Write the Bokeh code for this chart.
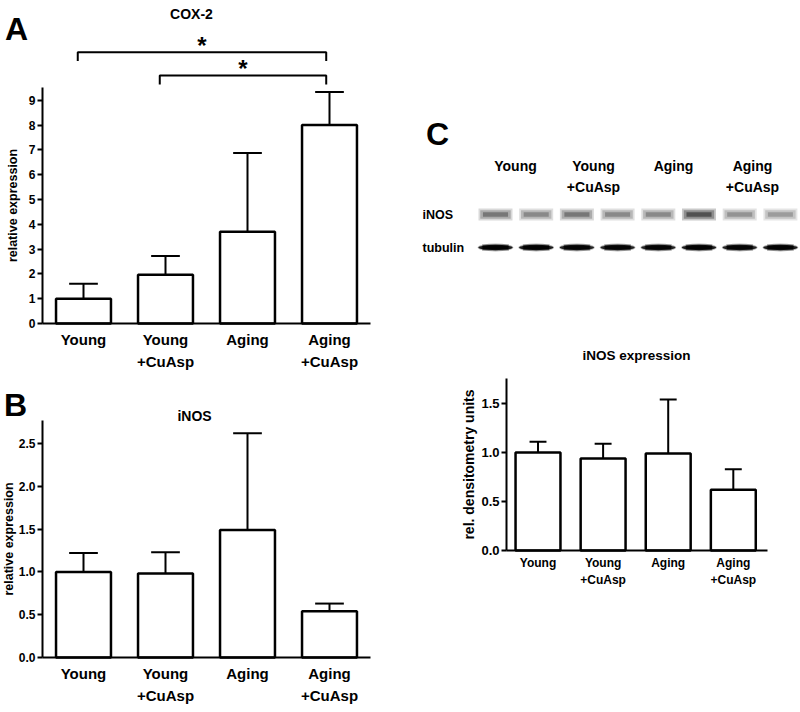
from bokeh.plotting import figure
from bokeh.models import Range1d, FixedTicker, Label, PrintfTickFormatter
from bokeh.layouts import row, column
from bokeh.embed import file_html
from bokeh.resources import INLINE

FONT = "Liberation Sans"

# ---------------- data ----------------
groups = ["Young", "Young\n+CuAsp", "Aging", "Aging\n+CuAsp"]
group_top = ["Young", "Young", "Aging", "Aging"]
group_bottom = ["", "+CuAsp", "", "+CuAsp"]
x_pos = [1, 2, 3, 4]

cox2_mean = [1.0, 1.97, 3.7, 8.0]
cox2_sem = [0.6, 0.75, 3.17, 1.33]
cox2_ticks = [0, 1, 2, 3, 4, 5, 6, 7, 8, 9]
cox2_axis_top = 9.5
cox2_signif = [(1, 4, 10.94, "*"), (2, 4, 10.0, "*")]

inos_mean = [1.0, 0.98, 1.49, 0.54]
inos_sem = [0.22, 0.25, 1.13, 0.09]
inos_ticks = [0.0, 0.5, 1.0, 1.5, 2.0, 2.5]
inos_axis_top = 2.77

dens_mean = [1.0, 0.94, 0.99, 0.62]
dens_sem = [0.11, 0.15, 0.55, 0.21]
dens_ticks = [0.0, 0.5, 1.0, 1.5]
dens_axis_top = 1.76

lanes = [1, 2, 3, 4, 5, 6, 7, 8]
inos_band = [0.6, 0.5, 0.6, 0.5, 0.5, 0.85, 0.45, 0.4]
tubulin_band = [0.95, 0.95, 0.9, 0.9, 0.9, 0.95, 0.9, 0.95]
blot_rows = ["iNOS", "tubulin"]


def style_common(p):
    p.xgrid.visible = False
    p.ygrid.visible = False
    p.outline_line_color = None
    p.background_fill_color = "white"
    p.border_fill_color = "white"


def bar_panel(w, h, xr, yr, x_axis_at, y_axis_at, means, sems, yticks, ybound, ylabel,
              fmt, tick_fs, xlab_fs, ylab_fs, xlab_standoff, xlab_lh, ylab_standoff,
              bar_w, cap_w):
    p = figure(width=w, height=h, x_range=Range1d(*xr), y_range=Range1d(*yr),
               output_backend="svg", toolbar_location=None, min_border=0)
    style_common(p)
    for ax in (p.xaxis[0], p.yaxis[0]):
        ax.axis_line_width = 2
        ax.axis_line_color = "black"
        ax.minor_tick_line_color = None
        ax.major_label_text_font = FONT
        ax.major_label_text_font_style = "bold"
        ax.major_label_text_color = "black"
        ax.axis_label_text_font = FONT
        ax.axis_label_text_font_style = "bold"
        ax.axis_label_text_color = "black"
    xa = p.xaxis[0]
    xa.fixed_location = x_axis_at
    xa.ticker = FixedTicker(ticks=x_pos)
    xa.major_label_overrides = {x: g for x, g in zip(x_pos, groups)}
    xa.major_tick_line_color = None
    xa.major_tick_out = 0
    xa.major_tick_in = 0
    xa.major_label_standoff = xlab_standoff
    xa.major_label_text_font_size = xlab_fs
    xa.major_label_text_line_height = xlab_lh
    ya = p.yaxis[0]
    ya.fixed_location = y_axis_at
    ya.ticker = FixedTicker(ticks=yticks)
    ya.formatter = PrintfTickFormatter(format=fmt)
    ya.bounds = (0, ybound)
    ya.major_tick_line_width = 2
    ya.major_tick_out = 5
    ya.major_tick_in = 0
    ya.major_label_standoff = 2
    ya.major_label_text_font_size = tick_fs
    ya.axis_label = ylabel
    ya.axis_label_text_font_size = ylab_fs
    ya.axis_label_standoff = ylab_standoff
    # bars
    p.vbar(x=x_pos, top=means, bottom=0, width=bar_w, fill_color="white",
           line_color="black", line_width=2.5)
    tops = [m + s for m, s in zip(means, sems)]
    p.segment(x0=x_pos, y0=means, x1=x_pos, y1=tops, line_color="black", line_width=2)
    p.segment(x0=[x - cap_w / 2 for x in x_pos], y0=tops,
              x1=[x + cap_w / 2 for x in x_pos], y1=tops,
              line_color="black", line_width=2)
    return p


def lab(p, x, y, text, size, align="center", baseline="middle"):
    p.add_layout(Label(x=x, y=y, text=text, text_font=FONT, text_font_style="bold",
                       text_font_size=size, text_align=align, text_baseline=baseline,
                       text_color="black"))


# ---------------- Panel A (COX-2) ----------------
ax_ = lambda px: 0.5 + (px - 42) / 82.0
ay_ = lambda py: (323 - py) / 24.8
pA = bar_panel(388, 375, (ax_(0), ax_(388)), (ay_(375), ay_(0)), 0, 0.5,
               cox2_mean, cox2_sem, cox2_ticks, cox2_axis_top, "relative expression",
               "%d", "12px", "15px", "12.5px", 7, 1.3, 6, 0.67, 0.35)
pA.xaxis[0].bounds = (0.5, ax_(370))
for (g0, g1, yb, star) in cox2_signif:
    x0 = g0 - 0.07
    x1 = g1 - 0.04
    drop = 0.36
    pA.line(x=[x0, x0, x1, x1], y=[yb - drop, yb, yb, yb - drop],
            line_color="black", line_width=2)
    lab(pA, (x0 + x1) / 2, yb + 0.28, star, "24px")
lab(pA, ax_(191), ay_(13), "COX-2", "14px")
lab(pA, ax_(16), ay_(28), "A", "32px")

# ---------------- Panel B (iNOS) ----------------
by_ = lambda py: (657 - py) / 85.6
pB = bar_panel(388, 337, (ax_(0), ax_(388)), (by_(712), by_(375)), 0, 0.5,
               inos_mean, inos_sem, inos_ticks, inos_axis_top, "relative expression",
               "%.1f", "12px", "15px", "12.5px", 7, 1.3, 0, 0.67, 0.35)
pB.xaxis[0].bounds = (0.5, ax_(370))
lab(pB, ax_(194), by_(415), "iNOS", "14px")
lab(pB, ax_(15), by_(404), "B", "32px")

# ---------------- Panel C blot ----------------
lx = lambda px: 1 + (px - 495) / 40.7
ry = lambda py: 1 + (py - 214) / 33.0
pC1 = figure(width=412, height=300, x_range=Range1d(lx(388), lx(800)),
             y_range=Range1d(ry(300), ry(0)), output_backend="svg",
             toolbar_location=None, min_border=0)
style_common(pC1)
pC1.xaxis.visible = False
pC1.yaxis.visible = False
for scale_w, scale_h, a in [(0.95, 0.36, 0.25), (0.85, 0.26, 0.35), (0.7, 0.14, 0.5)]:
    pC1.rect(x=lanes, y=[1] * 8, width=scale_w * 0.88, height=scale_h,
             fill_color="black", fill_alpha=[v * a for v in inos_band], line_color=None)
for scale_w, scale_h, a in [(0.88, 0.24, 0.3), (0.84, 0.16, 0.9)]:
    pC1.ellipse(x=lanes, y=[2] * 8, width=scale_w, height=scale_h,
                fill_color="black", fill_alpha=[v * a for v in tubulin_band], line_color=None)
    pC1.rect(x=lanes, y=[2] * 8, width=scale_w * 0.75, height=scale_h * 0.8,
             fill_color="black", fill_alpha=[v * a for v in tubulin_band], line_color=None)
for gx, t, b in zip([515, 593, 673, 752], group_top, group_bottom):
    lab(pC1, lx(gx), ry(165), t, "14px")
    if b:
        lab(pC1, lx(gx), ry(186), b, "14px")
for r, name in enumerate(blot_rows, start=1):
    lab(pC1, lx(422), r, name, "12.5px", align="left")
lab(pC1, lx(437), ry(133), "C", "32px")

# ---------------- Panel C densitometry ----------------
cx = lambda px: 0.516 + (px - 506) / 65.1
cy = lambda py: (550 - py) / 98.0
pC2 = bar_panel(412, 412, (cx(388), cx(800)), (cy(712), cy(300)), 0, cx(506),
                dens_mean, dens_sem, dens_ticks, dens_axis_top, "rel. densitometry units",
                "%.1f", "13px", "12px", "14px", 5, 1.25, 1, 0.69, 0.26)
pC2.xaxis[0].bounds = (cx(506), cx(767))
lab(pC2, cx(636), cy(355), "iNOS expression", "13.5px")

layout = row(column(pA, pB), column(pC1, pC2))
open("out.html", "w").write(file_html(layout, INLINE))
